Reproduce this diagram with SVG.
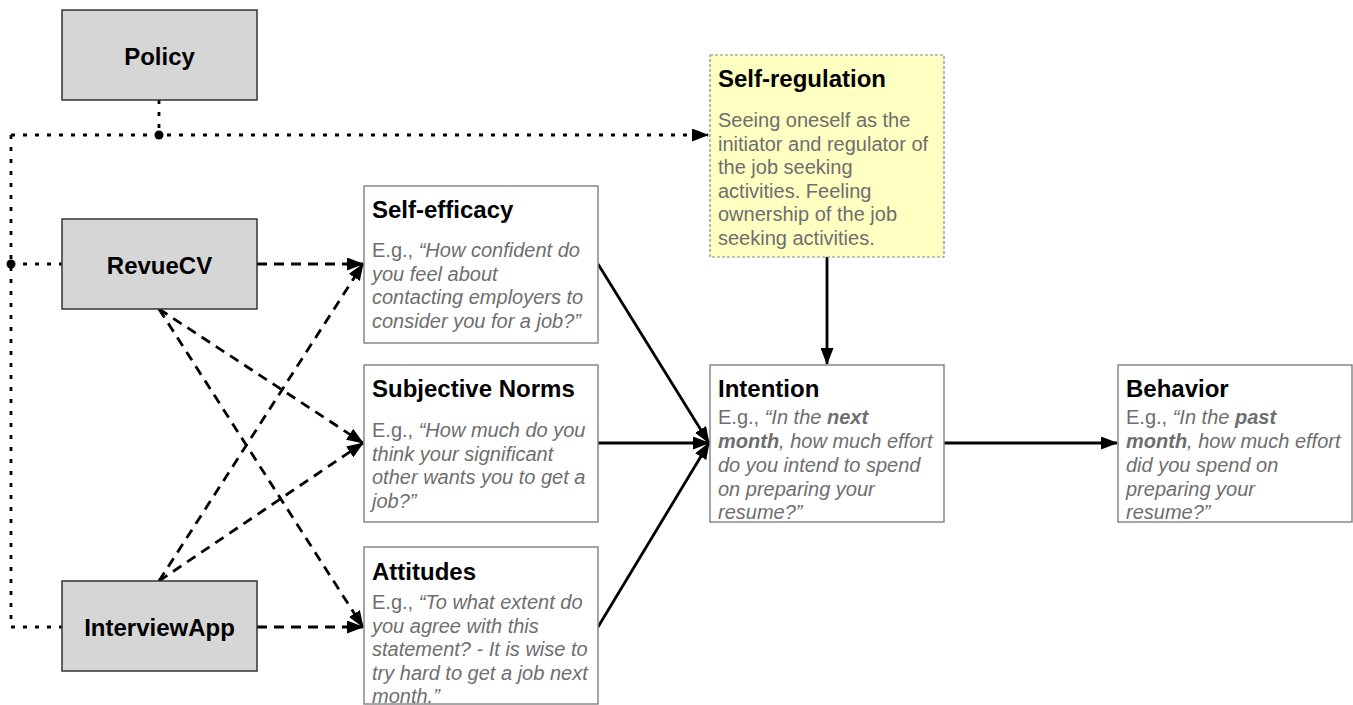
<svg xmlns="http://www.w3.org/2000/svg" width="1353" height="705" viewBox="0 0 1353 705">
<defs>
<style>
.src{fill:#d6d6d6;stroke:#333;stroke-width:1.5}
.box{fill:#fff;stroke:#888;stroke-width:1.5}
.note{fill:#ffffc2;stroke:#888;stroke-width:1.2;stroke-dasharray:3 2}
.lbl{font-family:"Liberation Sans",Arial,sans-serif;font-weight:bold;font-size:24px;fill:#000;text-anchor:middle}
.ttl{font-family:"Liberation Sans",Arial,sans-serif;font-weight:bold;font-size:24px;fill:#000}
.body{font-family:"Liberation Sans",Arial,sans-serif;font-size:20px;fill:#6e6e6e}
.it{font-style:italic}
.bi{font-style:italic;font-weight:bold}
.solid{fill:none;stroke:#000;stroke-width:2.8}
.dash{fill:none;stroke:#000;stroke-width:2.8;stroke-dasharray:10 7}
.dot{fill:none;stroke:#000;stroke-width:2.8;stroke-dasharray:4 8}
</style>
<marker id="ah" markerUnits="userSpaceOnUse" viewBox="0 0 17 13" markerWidth="17" markerHeight="13" refX="16" refY="6.5" orient="auto">
<path d="M0,0 L17,6.5 L0,13 z" fill="#000"/>
</marker>
</defs>

<g id="connectors">
<path class="dot" d="M159,100 V135"/>
<path class="dot" d="M11,135 H708" marker-end="url(#ah)"/>
<path class="dot" d="M11,135 V627 H62"/>
<path class="dot" d="M11,264 H62"/>
<circle cx="159" cy="135" r="4.5" fill="#000"/>
<circle cx="11" cy="264" r="4.5" fill="#000"/>
<path class="dash" d="M257,264 H363" marker-end="url(#ah)"/>
<path class="dash" d="M257,627 H363" marker-end="url(#ah)"/>
<path class="dash" d="M159,309 L363,443" marker-end="url(#ah)"/>
<path class="dash" d="M159,309 L363,627" marker-end="url(#ah)"/>
<path class="dash" d="M159,581 L363,264" marker-end="url(#ah)"/>
<path class="dash" d="M159,581 L363,443" marker-end="url(#ah)"/>
<path class="solid" d="M598,264 L709,443" marker-end="url(#ah)"/>
<path class="solid" d="M598,443 H709" marker-end="url(#ah)"/>
<path class="solid" d="M598,627 L709,443" marker-end="url(#ah)"/>
<path class="solid" d="M827,257 V364" marker-end="url(#ah)"/>
<path class="solid" d="M944,443 H1117" marker-end="url(#ah)"/>
</g>

<g id="policy">
<rect class="src" x="62" y="10" width="195" height="90"/>
<text class="lbl" x="159.5" y="65">Policy</text>
</g>
<g id="revuecv">
<rect class="src" x="62" y="219" width="195" height="90"/>
<text class="lbl" x="159.5" y="274">RevueCV</text>
</g>
<g id="interviewapp">
<rect class="src" x="62" y="581" width="195" height="90"/>
<text class="lbl" x="159.5" y="636">InterviewApp</text>
</g>

<g id="self-regulation">
<rect class="note" x="710" y="55" width="234" height="202"/>
<text class="ttl" x="718" y="87">Self-regulation</text>
<text class="body" x="718" y="127">Seeing oneself as the</text>
<text class="body" x="718" y="150.5">initiator and regulator of</text>
<text class="body" x="718" y="174">the job seeking</text>
<text class="body" x="718" y="197.5">activities. Feeling</text>
<text class="body" x="718" y="221">ownership of the job</text>
<text class="body" x="718" y="244.5">seeking activities.</text>
</g>

<g id="self-efficacy">
<rect class="box" x="364" y="186" width="234" height="157"/>
<text class="ttl" x="372" y="218">Self-efficacy</text>
<text class="body" x="372" y="257">E.g., <tspan class="it">“How confident do</tspan></text>
<text class="body it" x="372" y="280.5">you feel about</text>
<text class="body it" x="372" y="304">contacting employers to</text>
<text class="body it" x="372" y="327.5">consider you for a job?”</text>
</g>

<g id="subjective-norms">
<rect class="box" x="364" y="365" width="234" height="157"/>
<text class="ttl" x="372" y="397">Subjective Norms</text>
<text class="body" x="372" y="437">E.g., <tspan class="it">“How much do you</tspan></text>
<text class="body it" x="372" y="460.5">think your significant</text>
<text class="body it" x="372" y="484">other wants you to get a</text>
<text class="body it" x="372" y="507.5">job?”</text>
</g>

<g id="attitudes">
<rect class="box" x="364" y="547" width="234" height="157"/>
<text class="ttl" x="372" y="580">Attitudes</text>
<text class="body" x="372" y="609">E.g., <tspan class="it">“To what extent do</tspan></text>
<text class="body it" x="372" y="632.5">you agree with this</text>
<text class="body it" x="372" y="656">statement? - It is wise to</text>
<text class="body it" x="372" y="679.5">try hard to get a job next</text>
<text class="body it" x="372" y="703">month.”</text>
</g>

<g id="intention">
<rect class="box" x="710" y="365" width="234" height="157"/>
<text class="ttl" x="718" y="397">Intention</text>
<text class="body" x="718" y="424">E.g., <tspan class="it">“In the </tspan><tspan class="bi">next</tspan></text>
<text class="body it" x="718" y="448"><tspan class="bi">month</tspan>, how much effort</text>
<text class="body it" x="718" y="472">do you intend to spend</text>
<text class="body it" x="718" y="496">on preparing your</text>
<text class="body it" x="718" y="519">resume?”</text>
</g>

<g id="behavior">
<rect class="box" x="1118" y="365" width="234" height="157"/>
<text class="ttl" x="1126" y="397">Behavior</text>
<text class="body" x="1126" y="424">E.g., <tspan class="it">“In the </tspan><tspan class="bi">past</tspan></text>
<text class="body it" x="1126" y="448"><tspan class="bi">month</tspan>, how much effort</text>
<text class="body it" x="1126" y="472">did you spend on</text>
<text class="body it" x="1126" y="496">preparing your</text>
<text class="body it" x="1126" y="519">resume?”</text>
</g>
</svg>
